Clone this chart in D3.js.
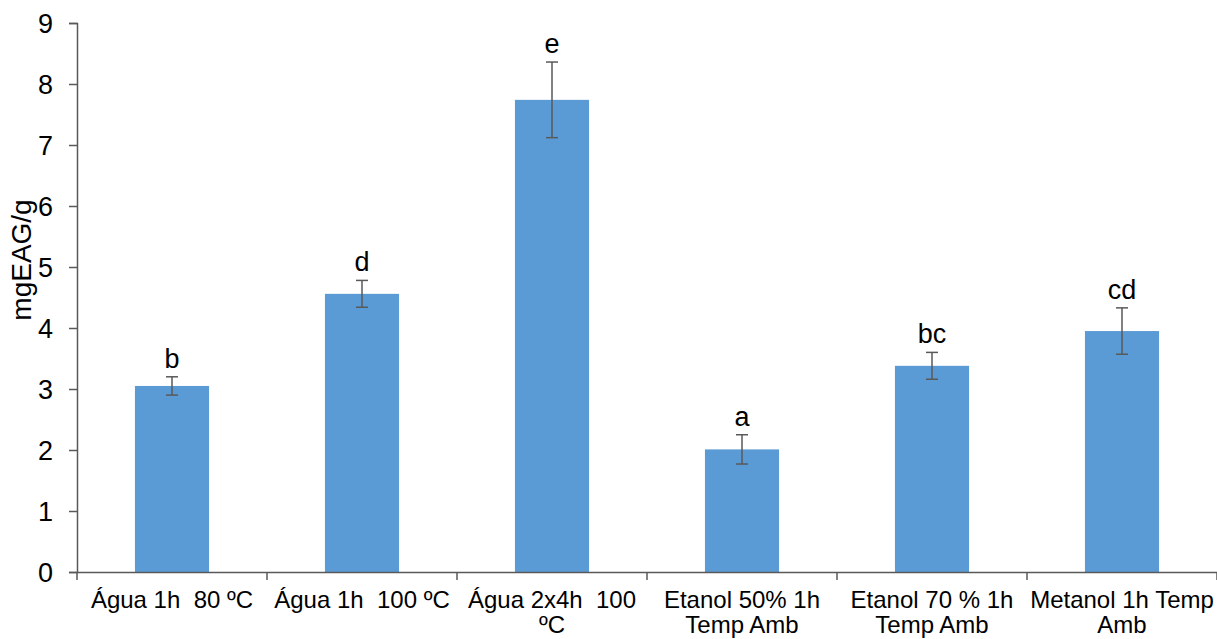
<!DOCTYPE html>
<html>
<head>
<meta charset="utf-8">
<script src="https://cdn.jsdelivr.net/npm/d3@7/dist/d3.min.js"></script>
<style>
  html, body { margin: 0; padding: 0; background: #fff; }
  svg { display: block; font-family: Arial, "Liberation Sans", sans-serif; }
</style>
</head>
<body>
<svg id="chart" width="1217" height="639"></svg>
<script>
// Extraction conditions (x axis), each split into the lines it wraps to
const categories = [
  ["Água 1h\u00a0\u00a080 ºC"],
  ["Água 1h\u00a0\u00a0100 ºC"],
  ["Água 2x4h\u00a0\u00a0100", "ºC"],
  ["Etanol 50% 1h", "Temp Amb"],
  ["Etanol 70 % 1h", "Temp Amb"],
  ["Metanol 1h Temp", "Amb"]
];
// Total phenolics, mg gallic acid equivalents per g
const means = [3.05, 4.56, 7.74, 2.01, 3.38, 3.95];
const errors = [0.15, 0.22, 0.62, 0.24, 0.22, 0.38];
// Significance letters
const letters = ["b", "d", "e", "a", "bc", "cd"];
const yTicks = [0, 1, 2, 3, 4, 5, 6, 7, 8, 9];

const svg = d3.select("#chart");
const plotLeft = 77, plotRight = 1217, plotTop = 23, plotBottom = 572;

const x = d3.scaleBand()
  .domain(d3.range(categories.length))
  .range([plotLeft, plotRight])
  .paddingInner(0).paddingOuter(0);
const y = d3.scaleLinear().domain([0, 9]).range([plotBottom, plotTop]);

const barW = x.bandwidth() * 0.39;
const axisColor = "#595959";

// Bars
svg.append("g").selectAll("rect")
  .data(means)
  .join("rect")
  .attr("x", (d, i) => x(i) + (x.bandwidth() - barW) / 2)
  .attr("y", d => y(d))
  .attr("width", barW)
  .attr("height", d => y(0) - y(d))
  .attr("fill", "#5B9BD5");

// Error bars
const eb = svg.append("g").attr("stroke", axisColor).attr("stroke-width", 1.5);
means.forEach((m, i) => {
  const cx = x(i) + x.bandwidth() / 2;
  eb.append("line").attr("x1", cx).attr("x2", cx)
    .attr("y1", y(m + errors[i])).attr("y2", y(m - errors[i]));
  [m + errors[i], m - errors[i]].forEach(v => {
    eb.append("line").attr("x1", cx - 6).attr("x2", cx + 6)
      .attr("y1", y(v)).attr("y2", y(v));
  });
});

// Letters above error bars
svg.append("g").selectAll("text")
  .data(letters)
  .join("text")
  .attr("x", (d, i) => x(i) + x.bandwidth() / 2)
  .attr("y", (d, i) => y(means[i] + errors[i]) - 9)
  .attr("text-anchor", "middle")
  .attr("font-size", 27)
  .attr("fill", "#000")
  .text(d => d);

// Y axis
const yAxis = svg.append("g")
  .attr("transform", `translate(${plotLeft},0)`)
  .call(d3.axisLeft(y).tickValues(yTicks).tickSize(8).tickPadding(16).tickFormat(d3.format("d")));
yAxis.select(".domain").attr("stroke", axisColor).attr("stroke-width", 1.5);
yAxis.selectAll(".tick line").attr("stroke", axisColor).attr("stroke-width", 1.5);
yAxis.selectAll(".tick text").attr("font-size", 27).attr("fill", "#000")
  .attr("font-family", "Arial, 'Liberation Sans', sans-serif").attr("dy", "0.36em");

// X axis
const xAxis = svg.append("g")
  .attr("transform", `translate(0,${plotBottom})`)
  .call(d3.axisBottom(x).tickSize(0).tickFormat(""));
xAxis.select(".domain").attr("stroke", axisColor).attr("stroke-width", 1.5);
xAxis.selectAll(".tick").remove();
// boundary ticks between categories
const bounds = d3.range(categories.length + 1).map(i => plotLeft + i * x.bandwidth());
xAxis.selectAll("line.bound").data(bounds).join("line")
  .attr("class", "bound")
  .attr("x1", d => d).attr("x2", d => d)
  .attr("y1", 0).attr("y2", 8)
  .attr("stroke", axisColor).attr("stroke-width", 1.5);

// Category labels
const lab = svg.append("g").attr("font-size", 24).attr("fill", "#000").attr("text-anchor", "middle");
categories.forEach((lines, i) => {
  const t = lab.append("text").attr("x", x(i) + x.bandwidth() / 2).attr("y", 608);
  lines.forEach((s, j) => {
    t.append("tspan").attr("x", x(i) + x.bandwidth() / 2).attr("dy", j === 0 ? 0 : 25).text(s);
  });
});

// Y axis title
svg.append("text")
  .attr("transform", "translate(31,260) rotate(-90)")
  .attr("text-anchor", "middle")
  .attr("font-size", 28)
  .attr("fill", "#000")
  .text("mgEAG/g");
</script>
</body>
</html>
